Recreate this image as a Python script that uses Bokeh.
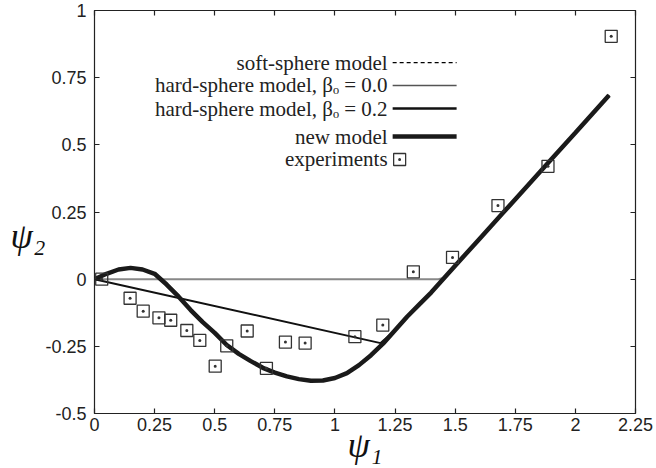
from bokeh.plotting import figure
from bokeh.models import Range1d, FixedTicker, LinearAxis
from bokeh.core.properties import value
from bokeh.embed import file_html
from bokeh.resources import INLINE

# ---------------- data ----------------
x_ticks = [0, 0.25, 0.5, 0.75, 1, 1.25, 1.5, 1.75, 2, 2.25]
x_tick_labels = ["0", "0.25", "0.5", "0.75", "1", "1.25", "1.5", "1.75", "2", "2.25"]
y_ticks = [-0.5, -0.25, 0, 0.25, 0.5, 0.75, 1]
y_tick_labels = ["-0.5", "-0.25", "0", "0.25", "0.5", "0.75", "1"]

new_x = [0.0, 0.05, 0.1, 0.15, 0.2, 0.25, 0.3, 0.35, 0.4, 0.45, 0.5, 0.55, 0.6,
         0.65, 0.7, 0.75, 0.8, 0.85, 0.9, 0.95, 1.0, 1.05, 1.1, 1.15, 1.2, 1.25,
         1.3, 1.35, 1.4, 1.5, 1.6, 1.7, 1.8, 1.9, 2.0, 2.14]
new_y = [0.0, 0.02, 0.036, 0.042, 0.036, 0.02, -0.02, -0.065, -0.115, -0.16,
         -0.2, -0.245, -0.278, -0.305, -0.33, -0.348, -0.362, -0.372, -0.378,
         -0.377, -0.368, -0.35, -0.32, -0.283, -0.24, -0.19, -0.14, -0.095,
         -0.05, 0.05, 0.149, 0.248, 0.347, 0.446, 0.545, 0.685]

soft_x = new_x
soft_y = new_y

hs0_x = [0.0, 1.43, 1.45, 1.47, 1.5, 1.6, 1.7, 1.8, 1.9, 2.0, 2.14]
hs0_y = [0.0, 0.0, 0.004, 0.02, 0.05, 0.149, 0.248, 0.347, 0.446, 0.545, 0.685]

hs2_x = [0.0, 1.19, 1.25, 1.3, 1.35, 1.4, 1.5, 1.6, 1.7, 1.8, 1.9, 2.0, 2.14]
hs2_y = [0.0, -0.238, -0.19, -0.14, -0.095, -0.05, 0.05, 0.149, 0.248, 0.347,
         0.446, 0.545, 0.685]

exp_x = [0.03, 0.148, 0.2025, 0.268, 0.317, 0.384, 0.438, 0.502, 0.55, 0.635,
         0.715, 0.794, 0.876, 1.083, 1.199, 1.326, 1.489, 1.678, 1.886, 2.149]
exp_y = [0.0, -0.071, -0.119, -0.144, -0.153, -0.191, -0.228, -0.324, -0.248,
         -0.193, -0.332, -0.234, -0.238, -0.214, -0.171, 0.0275, 0.081, 0.274,
         0.42, 0.904]

legend_labels = ["soft-sphere model", "hard-sphere model, βₒ = 0.0",
                 "hard-sphere model, βₒ = 0.2", "new model", "experiments"]

# ---------------- layout constants ----------------
LEG_TEXT_X = 1.219
LEG_LINE_X0 = 1.240
LEG_LINE_X1 = 1.506
LEG_MARK_X = 1.269
LEG_ROWS_Y = [0.806, 0.721, 0.635, 0.531, 0.4455]

AX_COLOR = "#222222"
TICK_FONT = "Liberation Sans"
SERIF = "Liberation Serif"

p = figure(width=656, height=468, x_range=Range1d(0, 2.25), y_range=Range1d(-0.5, 1),
           output_backend="svg", toolbar_location=None,
           min_border_left=94, min_border_right=21, min_border_top=10, min_border_bottom=55)
p.outline_line_color = AX_COLOR
p.outline_line_width = 1.2
p.outline_line_alpha = 1.0
p.grid.visible = False
p.background_fill_color = "white"


def style_axis(ax, ticks, labels=None, standoff=5):
    ax.ticker = FixedTicker(ticks=ticks)
    ax.major_tick_in = 5
    ax.major_tick_out = 0
    ax.minor_tick_line_color = None
    ax.axis_line_color = None
    ax.major_tick_line_color = AX_COLOR
    ax.major_tick_line_width = 1.2
    if labels is None:
        ax.major_label_text_font_size = "0px"
        ax.major_label_standoff = 0
        ax.major_label_overrides = {t: "" for t in ticks}
    else:
        ax.major_label_overrides = dict(zip(ticks, labels))
        ax.major_label_text_font = TICK_FONT
        ax.major_label_text_font_size = "18px"
        ax.major_label_text_color = "#222222"
        ax.major_label_standoff = standoff


style_axis(p.xaxis[0], x_ticks, x_tick_labels, standoff=4)
style_axis(p.yaxis[0], y_ticks, y_tick_labels, standoff=8)

# axis titles
xa = p.xaxis[0]
xa.axis_label = "ψ₁"
xa.axis_label_text_font = SERIF
xa.axis_label_text_font_style = "italic"
xa.axis_label_text_font_size = "36px"
xa.axis_label_text_color = "#111111"
xa.axis_label_standoff = -9

ya = p.yaxis[0]
ya.axis_label = "\nψ₂"   # leading empty line lowers the centred title a little
ya.axis_label_orientation = "horizontal"
ya.axis_label_text_font = SERIF
ya.axis_label_text_font_style = "italic"
ya.axis_label_text_font_size = "36px"
ya.axis_label_text_color = "#111111"
ya.axis_label_standoff = -3

ax_top = LinearAxis()
style_axis(ax_top, x_ticks)
p.add_layout(ax_top, "above")
ax_right = LinearAxis()
style_axis(ax_right, y_ticks)
p.add_layout(ax_right, "right")

# ---------------- curves ----------------
p.line(soft_x, soft_y, line_color="black", line_width=1.3, line_dash="4 3")
p.line(hs0_x, hs0_y, line_color="#888888", line_width=2)
p.line(hs2_x, hs2_y, line_color="#111111", line_width=2)
p.line(new_x, new_y, line_color="#1a1a1a", line_width=4.5)
p.scatter(exp_x, exp_y, marker="square_dot", size=12, line_color="#333333",
          line_width=1.3, fill_color=None)

# ---------------- legend (custom, samples right of text) ----------------
p.text(x=[LEG_TEXT_X] * 5, y=LEG_ROWS_Y, text=legend_labels,
       text_align="right", text_baseline="middle",
       text_font=value(SERIF), text_font_size="21px", text_color="#222222")
p.line([LEG_LINE_X0, LEG_LINE_X1], [LEG_ROWS_Y[0]] * 2, line_color="black",
       line_width=1.3, line_dash="4 3")
p.line([LEG_LINE_X0, LEG_LINE_X1], [LEG_ROWS_Y[1]] * 2, line_color="#555555", line_width=1.6)
p.line([LEG_LINE_X0, LEG_LINE_X1], [LEG_ROWS_Y[2]] * 2, line_color="#111111", line_width=2.5)
p.line([LEG_LINE_X0, LEG_LINE_X1], [LEG_ROWS_Y[3]] * 2, line_color="#1a1a1a", line_width=4.5)
p.scatter([LEG_MARK_X], [LEG_ROWS_Y[4]], marker="square_dot", size=12,
          line_color="#333333", line_width=1.3, fill_color=None)

open("out.html", "w").write(file_html(p, INLINE))
